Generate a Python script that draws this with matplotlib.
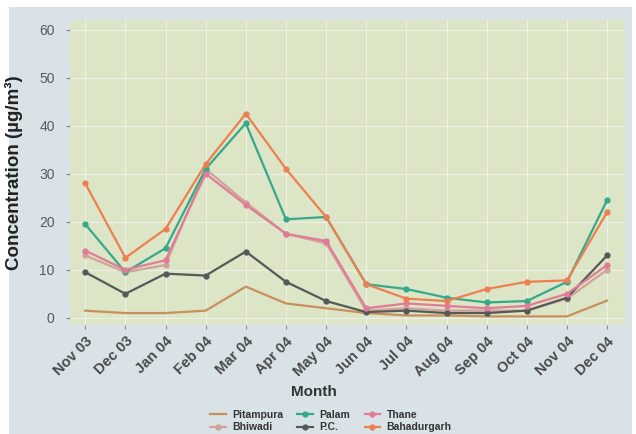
import matplotlib
matplotlib.use("Agg")
import matplotlib.pyplot as plt
from matplotlib.patches import Rectangle
from matplotlib.transforms import ScaledTranslation

months = ["Nov 03", "Dec 03", "Jan 04", "Feb 04", "Mar 04", "Apr 04", "May 04",
          "Jun 04", "Jul 04", "Aug 04", "Sep 04", "Oct 04", "Nov 04", "Dec 04"]

pitampura = [1.5, 1.0, 1.0, 1.5, 6.5, 3.0, 2.0, 1.0, 0.5, 0.5, 0.3, 0.3, 0.3, 3.6]
bhiwadi = [13.0, 9.5, 11.0, 31.0, 24.0, 17.5, 15.5, 1.5, 2.0, 1.5, 1.5, 1.5, 4.0, 10.0]
palam = [19.5, 9.5, 14.5, 31.0, 40.5, 20.5, 21.0, 7.0, 6.0, 4.2, 3.2, 3.5, 7.5, 24.5]
pc = [9.5, 5.0, 9.2, 8.8, 13.8, 7.5, 3.5, 1.2, 1.5, 1.0, 1.0, 1.5, 4.2, 13.0]
thane = [14.0, 10.0, 12.0, 30.0, 23.5, 17.5, 16.0, 2.0, 3.0, 2.5, 2.0, 2.5, 5.0, 11.0]
bahadurgarh = [28.0, 12.5, 18.5, 32.0, 42.5, 31.0, 21.0, 7.0, 4.0, 3.5, 6.0, 7.5, 7.8, 22.0]

series = [
    ("Pitampura", pitampura, "#c98f5c", None),
    ("Bhiwadi", bhiwadi, "#d3a19c", "o"),
    ("Palam", palam, "#35a98a", "o"),
    ("P.C.", pc, "#535a59", "o"),
    ("Thane", thane, "#e07c98", "o"),
    ("Bahadurgarh", bahadurgarh, "#ee7f52", "o"),
]

plt.rcParams["font.family"] = ["Liberation Sans", "DejaVu Sans"]

fig = plt.figure(figsize=(6.36, 4.34), dpi=100)
fig.patch.set_facecolor("white")
fig.patches.append(Rectangle((0.014, 0.0), 0.98, 0.985, transform=fig.transFigure,
                             facecolor="#d9e2e6", edgecolor="none", zorder=-10))

ax = fig.add_axes([0.110, 0.251, 0.873, 0.703])
ax.set_facecolor("#dce5c6")
x = list(range(len(months)))
for name, vals, color, marker in series:
    ax.plot(x, vals, color=color, lw=1.6, marker=marker, ms=3.5,
            label=name, solid_joinstyle="round")

ax.set_xlim(-0.38, 13.45)
ax.set_ylim(-1.5, 62)
ax.set_yticks([0, 10, 20, 30, 40, 50, 60])
ax.set_xticks(x)
ax.set_xticklabels(months, rotation=45, ha="right", rotation_mode="anchor",
                   fontsize=10.5, color="#4a4a4a", fontweight="bold")
shift = ScaledTranslation(-9 / 100, -9 / 100, fig.dpi_scale_trans)
for lab in ax.get_xticklabels():
    lab.set_transform(lab.get_transform() + shift)
ax.tick_params(axis="y", labelsize=10, labelcolor="#5a5a5a", length=3,
               color="#888888", pad=8)
ax.tick_params(axis="x", length=3, color="#888888")
ax.grid(True, color="#eef1e6", lw=0.8)
ax.set_axisbelow(True)
for s in ax.spines.values():
    s.set_visible(False)

ax.set_ylabel("Concentration (µg/m³)", fontsize=13.5, fontweight="bold",
              color="#222222", labelpad=2)
ax.yaxis.set_label_coords(-0.085, 0.5)
ax.set_xlabel("Month", fontsize=11, fontweight="bold", color="#333333")
ax.xaxis.set_label_coords(0.44, -0.195)

handles, labels = ax.get_legend_handles_labels()
leg = fig.legend(handles, labels, loc="lower center", bbox_to_anchor=(0.52, -0.018),
                 ncol=3, frameon=False, handlelength=1.5,
                 columnspacing=1.4, handletextpad=0.6, labelspacing=0.25,
                 prop={"weight": "bold", "size": 7.5})
for t in leg.get_texts():
    t.set_color("#333333")

fig.savefig("out.png", dpi=100, facecolor=fig.get_facecolor())
